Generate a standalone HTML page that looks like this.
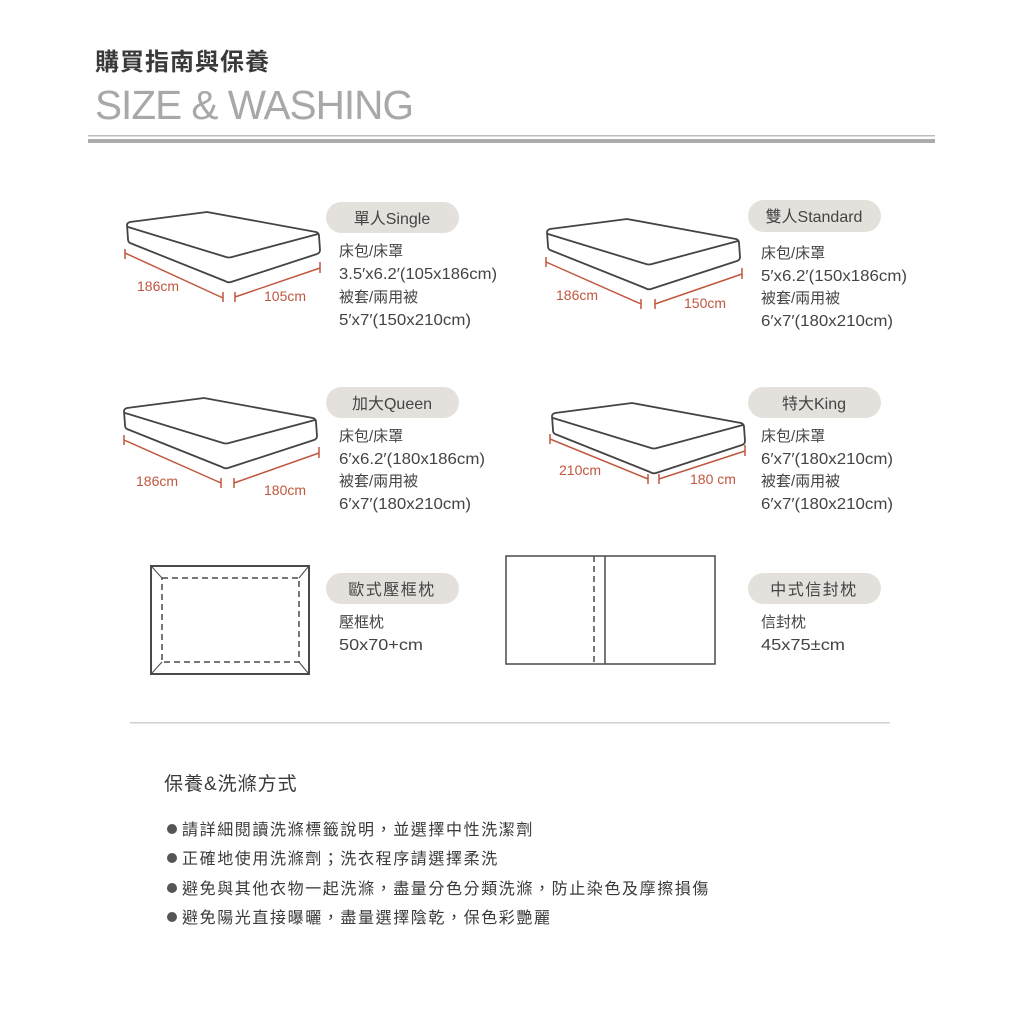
<!DOCTYPE html>
<html><head><meta charset="utf-8"><style>
html,body{margin:0;padding:0;background:#fff;}
svg{display:block;}
text{font-family:"Liberation Sans","Noto Sans CJK TC",sans-serif;}
</style></head><body>
<svg width="1024" height="1024" viewBox="0 0 1024 1024" xmlns="http://www.w3.org/2000/svg">
<rect width="1024" height="1024" fill="#fff"/>
<text x="95" y="70" font-size="24" font-weight="bold" fill="#3a3a3a" letter-spacing="1">購買指南與保養</text>
<text x="95" y="119" font-size="41" fill="#a8a8a8" letter-spacing="-1" textLength="318" lengthAdjust="spacingAndGlyphs">SIZE &amp; WASHING</text>
<rect x="88" y="135" width="847" height="1.5" fill="#bdbdbd"/>
<rect x="88" y="139" width="847" height="4" fill="#acacac"/>

<defs>
<g id="mat" fill="none" stroke="#444" stroke-width="1.8" stroke-linejoin="round" stroke-linecap="round">
  <path d="M127,225 Q127,223 130,222 L207,212 L316,232 Q319,233 319,236 L320,250 Q320,253 317,254 L231,282 Q228,283 225,281 L130,243 Q128,242 128,239 Z" fill="#fff"/>
  <path d="M128,227 L226,257 Q229,258 232,257 L318,234"/>
</g>
</defs>

<use href="#mat"/>
<g stroke="#c0573f" stroke-width="1.5" fill="none">
  <path d="M125,249 L125,259 M125,253 L223,298 M223,292 L223,302"/>
  <path d="M235,292 L235,302 M235,297 L320,268 M320,262 L320,273"/>
</g>
<text x="137" y="291" font-size="14" fill="#c0573f">186cm</text>
<text x="264" y="301" font-size="14" fill="#c0573f">105cm</text>

<g transform="translate(420,7)"><use href="#mat"/></g>
<g stroke="#c0573f" stroke-width="1.5" fill="none">
  <path d="M546,257 L546,267 M546,262 L641,304 M641,299 L641,309"/>
  <path d="M655,299 L655,309 M655,304 L742,274 M742,268 L742,279"/>
</g>
<text x="556" y="300" font-size="14" fill="#c0573f">186cm</text>
<text x="684" y="308" font-size="14" fill="#c0573f">150cm</text>

<g transform="translate(-3,186)"><use href="#mat"/></g>
<g stroke="#c0573f" stroke-width="1.5" fill="none">
  <path d="M124,435 L124,445 M124,440 L221,483 M221,478 L221,488"/>
  <path d="M234,478 L234,488 M234,483 L319,453 M319,447 L319,458"/>
</g>
<text x="136" y="486" font-size="14" fill="#c0573f">186cm</text>
<text x="264" y="495" font-size="14" fill="#c0573f">180cm</text>

<g transform="translate(425,191)"><use href="#mat"/></g>
<g stroke="#c0573f" stroke-width="1.5" fill="none">
  <path d="M550,434 L550,444 M550,439 L648,479 M648,474 L648,484"/>
  <path d="M659,474 L659,484 M659,479 L745,451 M745,445 L745,456"/>
</g>
<text x="559" y="475" font-size="14" fill="#c0573f">210cm</text>
<text x="690" y="484" font-size="14" fill="#c0573f">180 cm</text>

<g fill="#e4e1dc">
  <rect x="326" y="202" width="133" height="31" rx="15.5"/>
  <rect x="748" y="200" width="133" height="32" rx="16"/>
  <rect x="326" y="387" width="133" height="31" rx="15.5"/>
  <rect x="748" y="387" width="133" height="31" rx="15.5"/>
  <rect x="326" y="573" width="133" height="31" rx="15.5"/>
  <rect x="748" y="573" width="133" height="31" rx="15.5"/>
</g>
<g font-size="16" fill="#444" text-anchor="middle">
  <text x="392" y="224">單人Single</text>
  <text x="814" y="222">雙人Standard</text>
  <text x="392" y="409">加大Queen</text>
  <text x="814" y="409">特大King</text>
  <text x="392" y="595" letter-spacing="1.5">歐式壓框枕</text>
  <text x="814" y="595" letter-spacing="1.5">中式信封枕</text>
</g>

<g font-size="15" fill="#444">
  <text x="339" y="256">床包/床罩</text>
  <text x="339" y="279" font-size="16" textLength="158" lengthAdjust="spacingAndGlyphs">3.5′x6.2′(105x186cm)</text>
  <text x="339" y="302">被套/兩用被</text>
  <text x="339" y="325" font-size="16" textLength="132" lengthAdjust="spacingAndGlyphs">5′x7′(150x210cm)</text>

  <text x="761" y="258">床包/床罩</text>
  <text x="761" y="281" font-size="16" textLength="146" lengthAdjust="spacingAndGlyphs">5′x6.2′(150x186cm)</text>
  <text x="761" y="303">被套/兩用被</text>
  <text x="761" y="326" font-size="16" textLength="132" lengthAdjust="spacingAndGlyphs">6′x7′(180x210cm)</text>

  <text x="339" y="441">床包/床罩</text>
  <text x="339" y="464" font-size="16" textLength="146" lengthAdjust="spacingAndGlyphs">6′x6.2′(180x186cm)</text>
  <text x="339" y="486">被套/兩用被</text>
  <text x="339" y="509" font-size="16" textLength="132" lengthAdjust="spacingAndGlyphs">6′x7′(180x210cm)</text>

  <text x="761" y="441">床包/床罩</text>
  <text x="761" y="464" font-size="16" textLength="132" lengthAdjust="spacingAndGlyphs">6′x7′(180x210cm)</text>
  <text x="761" y="486">被套/兩用被</text>
  <text x="761" y="509" font-size="16" textLength="132" lengthAdjust="spacingAndGlyphs">6′x7′(180x210cm)</text>

  <text x="339" y="627">壓框枕</text>
  <text x="339" y="650" font-size="16" textLength="84" lengthAdjust="spacingAndGlyphs">50x70+cm</text>
  <text x="761" y="627">信封枕</text>
  <text x="761" y="650" font-size="16" textLength="84" lengthAdjust="spacingAndGlyphs">45x75±cm</text>
</g>

<g fill="none" stroke="#4a4a4a">
  <rect x="151" y="566" width="158" height="108" stroke-width="2"/>
  <rect x="162" y="578" width="137" height="84" stroke-width="1.5" stroke-dasharray="6,4"/>
  <path d="M152,567 L162,578 M308,567 L299,578 M152,673 L162,662 M308,673 L299,662" stroke-width="1"/>
  <rect x="506" y="556" width="209" height="108" stroke-width="1.5"/>
  <line x1="594" y1="556" x2="594" y2="664" stroke-width="1.5" stroke-dasharray="6,4"/>
  <line x1="605" y1="556" x2="605" y2="664" stroke-width="1.5"/>
</g>

<rect x="130" y="722" width="760" height="1.5" fill="#cfcfcf"/>

<text x="164" y="790" font-size="19" fill="#3a3a3a" letter-spacing="1">保養&amp;洗滌方式</text>
<g fill="#555">
  <circle cx="172" cy="829" r="5"/>
  <circle cx="172" cy="858" r="5"/>
  <circle cx="172" cy="888" r="5"/>
  <circle cx="172" cy="917" r="5"/>
</g>
<g font-size="16" fill="#3a3a3a" letter-spacing="1.6">
  <text x="182" y="835">請詳細閱讀洗滌標籤說明，並選擇中性洗潔劑</text>
  <text x="182" y="864">正確地使用洗滌劑；洗衣程序請選擇柔洗</text>
  <text x="182" y="894" textLength="528" lengthAdjust="spacing">避免與其他衣物一起洗滌，盡量分色分類洗滌，防止染色及摩擦損傷</text>
  <text x="182" y="923">避免陽光直接曝曬，盡量選擇陰乾，保色彩艷麗</text>
</g>
</svg>
</body></html>
